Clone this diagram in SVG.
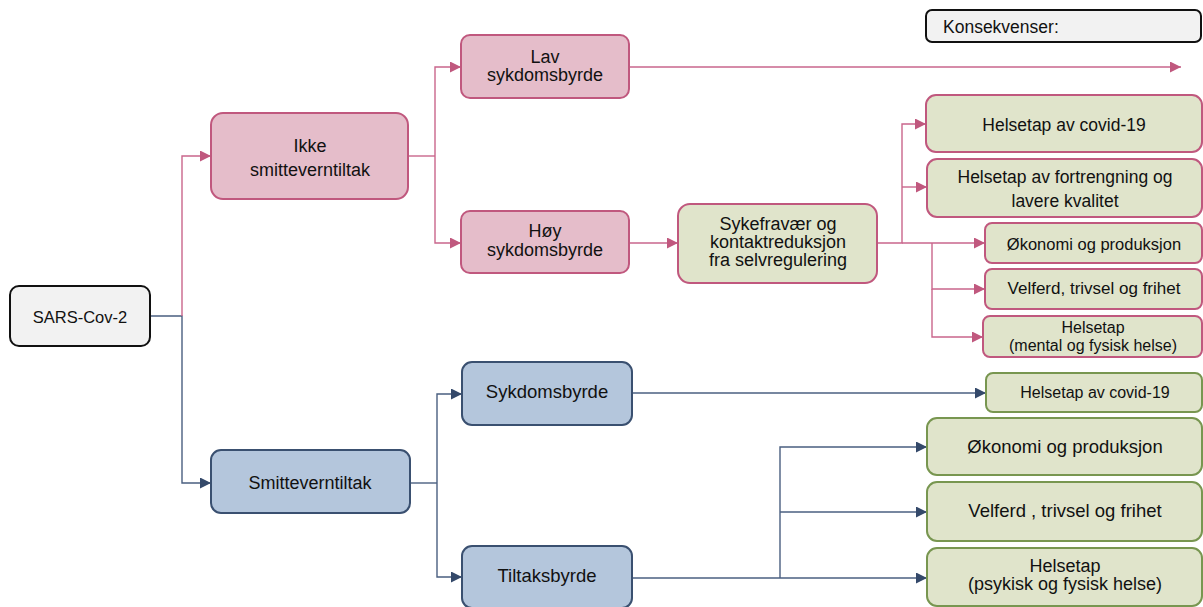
<svg xmlns="http://www.w3.org/2000/svg" width="1203" height="607" viewBox="0 0 1203 607">
<style>
text{font-family:"Liberation Sans",Arial,sans-serif;fill:#111;text-anchor:middle}
.pk{fill:#E5BDCA;stroke:#C0587E;stroke-width:2}
.bl{fill:#B4C6DC;stroke:#3A5070;stroke-width:2}
.gp{fill:#E0E4CB;stroke:#C0587E;stroke-width:2}
.gg{fill:#E0E4CB;stroke:#789650;stroke-width:2}
.gy{fill:#F2F2F2;stroke:#111;stroke-width:2}
.lp{fill:none;stroke:#C9668C;stroke-width:1.4}
.lb{fill:none;stroke:#4A5F80;stroke-width:1.4}
</style>
<defs>
<marker id="ap" viewBox="0 0 10 10" refX="10" refY="5" markerWidth="12" markerHeight="11" markerUnits="userSpaceOnUse" orient="auto"><path d="M0,0 L10,5 L0,10 z" fill="#C0587E"/></marker>
<marker id="ab" viewBox="0 0 10 10" refX="10" refY="5" markerWidth="12" markerHeight="11" markerUnits="userSpaceOnUse" orient="auto"><path d="M0,0 L10,5 L0,10 z" fill="#34496A"/></marker>
</defs>
<g id="connectors">
<path class="lb" d="M151,316 H182 V483 H211" marker-end="url(#ab)"/>
<path class="lp" d="M182,316 V156 H211" marker-end="url(#ap)"/>
<path class="lp" d="M408,156 H435"/>
<path class="lp" d="M435,156 V67 H461" marker-end="url(#ap)"/>
<path class="lp" d="M435,156 V243 H461" marker-end="url(#ap)"/>
<path class="lp" d="M629,67 H1181" marker-end="url(#ap)"/>
<path class="lp" d="M629,243 H678" marker-end="url(#ap)"/>
<path class="lp" d="M877,243 H902 V124 H926" marker-end="url(#ap)"/>
<path class="lp" d="M902,187 H927" marker-end="url(#ap)"/>
<path class="lp" d="M902,243 H985" marker-end="url(#ap)"/>
<path class="lp" d="M932,243 V289 H985" marker-end="url(#ap)"/>
<path class="lp" d="M932,289 V337 H983" marker-end="url(#ap)"/>
<path class="lb" d="M410,483 H437"/>
<path class="lb" d="M437,483 V394 H462" marker-end="url(#ab)"/>
<path class="lb" d="M437,483 V577 H462" marker-end="url(#ab)"/>
<path class="lb" d="M632,393 H986" marker-end="url(#ab)"/>
<path class="lb" d="M632,578 H927" marker-end="url(#ab)"/>
<path class="lb" d="M780,578 V447 H927" marker-end="url(#ab)"/>
<path class="lb" d="M780,512 H927" marker-end="url(#ab)"/>
</g>
<g id="sars"><rect class="gy" x="10" y="286" width="140" height="60" rx="9"/><text x="80" y="323" font-size="16.5">SARS-Cov-2</text></g>
<g id="konsekvenser"><rect class="gy" x="926" y="10" width="275" height="32" rx="6"/><text x="943" y="33" font-size="17.5" style="text-anchor:start">Konsekvenser:</text></g>
<g id="ikke"><rect class="pk" x="211" y="113" width="197" height="86" rx="12"/><text x="310" y="152" font-size="18">Ikke</text><text x="310" y="176" font-size="18">smitteverntiltak</text></g>
<g id="lav"><rect class="pk" x="461" y="35" width="168" height="63" rx="9"/><text x="545" y="63" font-size="18">Lav</text><text x="545" y="81" font-size="18">sykdomsbyrde</text></g>
<g id="hoy"><rect class="pk" x="461" y="211" width="168" height="62" rx="9"/><text x="545" y="237" font-size="18">Høy</text><text x="545" y="256" font-size="18">sykdomsbyrde</text></g>
<g id="sykefravaer"><rect class="gp" x="678" y="204" width="199" height="79" rx="12"/><text x="778" y="230" font-size="18">Sykefravær og</text><text x="778" y="248" font-size="18">kontaktreduksjon</text><text x="778" y="266" font-size="18">fra selvregulering</text></g>
<g id="p-helsetap-covid"><rect class="gp" x="926" y="95" width="276" height="57" rx="10"/><text x="1064" y="131" font-size="17.5">Helsetap av covid-19</text></g>
<g id="p-fortrengning"><rect class="gp" x="927" y="159" width="275" height="58" rx="10"/><text x="1065" y="183" font-size="17.5">Helsetap av fortrengning og</text><text x="1065" y="207" font-size="17.5">lavere kvalitet</text></g>
<g id="p-okonomi"><rect class="gp" x="985" y="223" width="217" height="40" rx="7"/><text x="1094" y="250" font-size="16.5">Økonomi og produksjon</text></g>
<g id="p-velferd"><rect class="gp" x="985" y="269" width="217" height="40" rx="7"/><text x="1094" y="294" font-size="17">Velferd, trivsel og frihet</text></g>
<g id="p-helsetap-mental"><rect class="gp" x="983" y="316" width="219" height="41" rx="7"/><text x="1093" y="333" font-size="16">Helsetap</text><text x="1093" y="351" font-size="16">(mental og fysisk helse)</text></g>
<g id="smitteverntiltak"><rect class="bl" x="211" y="450" width="199" height="63" rx="10"/><text x="310" y="489" font-size="18">Smitteverntiltak</text></g>
<g id="sykdomsbyrde"><rect class="bl" x="462" y="362" width="170" height="63" rx="10"/><text x="547" y="398" font-size="18.5">Sykdomsbyrde</text></g>
<g id="tiltaksbyrde"><rect class="bl" x="462" y="546" width="170" height="62" rx="10"/><text x="547" y="582" font-size="18.5">Tiltaksbyrde</text></g>
<g id="b-helsetap-covid"><rect class="gg" x="986" y="373" width="216" height="39" rx="7"/><text x="1095" y="398" font-size="16">Helsetap av covid-19</text></g>
<g id="b-okonomi"><rect class="gg" x="927" y="418" width="275" height="57" rx="10"/><text x="1065" y="453" font-size="18.5">Økonomi og produksjon</text></g>
<g id="b-velferd"><rect class="gg" x="927" y="482" width="275" height="59" rx="10"/><text x="1065" y="517" font-size="18.5">Velferd , trivsel og frihet</text></g>
<g id="b-helsetap"><rect class="gg" x="927" y="548" width="275" height="58" rx="10"/><text x="1065" y="572" font-size="18">Helsetap</text><text x="1065" y="590" font-size="18">(psykisk og fysisk helse)</text></g>
</svg>
